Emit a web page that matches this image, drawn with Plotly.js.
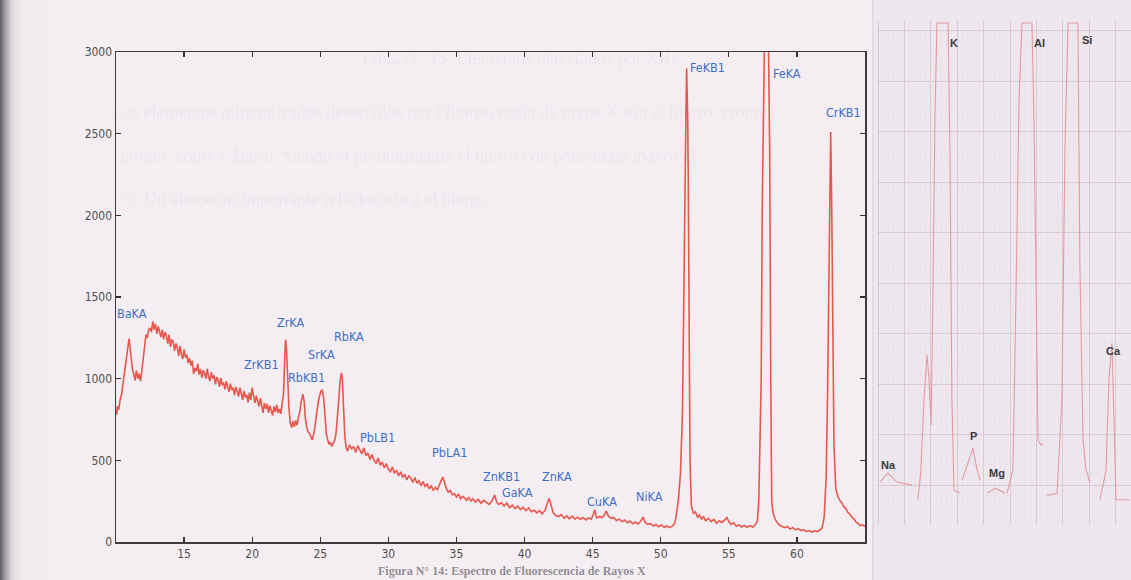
<!DOCTYPE html>
<html>
<head>
<meta charset="utf-8">
<script src="https://cdn.plot.ly/plotly-3.0.1.min.js"></script>
<style>
  html, body { margin:0; padding:0; }
  body {
    width:1131px; height:580px; overflow:hidden;
    background: linear-gradient(to right, #5f5f63 0px, #a9a6aa 6px, #dedade 12px, #f1ebf0 22px, #f4eef3 60px);
  }
  #chart { width:1131px; height:580px; }
</style>
</head>
<body>
<div id="chart"></div>
<script>
// ---- Main XRF spectrum: [2θ, counts] pairs ----
const spectrumBa = [
[10.0,808],[10.05,780],[10.1,830],[10.2,810],[10.3,870],[10.4,900],[10.5,960],[10.6,1030],[10.7,1090],[10.8,1150],
[10.9,1215],[10.96,1245],[11.02,1200],[11.1,1120],[11.2,1060],[11.3,1030],[11.4,990],[11.5,1050],[11.6,1000],[11.7,1030],
[11.8,985],[11.9,1050],[12.0,1120],[12.1,1210],[12.2,1270],[12.3,1250],[12.4,1300]
];
const spectrumBackground = [
[12.5,1310],[12.6,1285],[12.7,1350],[12.8,1300],[12.9,1335],[13.0,1275],[13.1,1320],[13.2,1290],[13.3,1255],[13.4,1300],
[13.5,1240],[13.6,1285],[13.7,1265],[13.8,1215],[13.9,1270],[14.0,1195],[14.1,1240],[14.2,1225],[14.3,1170],[14.4,1215],
[14.5,1190],[14.6,1140],[14.7,1200],[14.8,1150],[14.9,1120],[15.0,1180],[15.1,1130],[15.2,1145],[15.3,1095],[15.4,1125],
[15.5,1080],[15.6,1110],[15.7,1030],[15.8,1065],[15.9,1045],[16.0,1090],[16.1,1025],[16.2,1060],[16.3,1005],[16.4,1050],
[16.5,1035],[16.6,1000],[16.7,1060],[16.8,1010],[16.9,985],[17.0,1040],[17.1,1000],[17.2,1020],[17.3,965],[17.4,1010],
[17.5,990],[17.6,950],[17.7,1005],[17.8,960],[17.9,975],[18.0,935],[18.1,985],[18.2,950],[18.3,920],[18.4,970],
[18.5,930],[18.6,945],[18.7,900],[18.8,950],[18.9,915],[19.0,890],[19.1,945],[19.2,900],[19.3,870],[19.4,925],
[19.5,885],[19.6,900],[19.7,855],[19.8,915],[19.9,870],[20.0,945],[20.1,880],[20.2,850],[20.3,895],[20.4,860],
[20.5,830],[20.6,880],[20.7,835],[20.8,790],[20.9,850],[21.0,815],[21.1,845],[21.2,790],[21.3,835],[21.4,800],
[21.5,775],[21.6,830],[21.7,795],[21.8,840],[21.9,790],[22.0,815],[22.1,785],[22.2,850]
];
const spectrumZrRbSr = [
[22.3,900],[22.38,1100],[22.45,1240],[22.52,1180],[22.6,1000],[22.7,820],[22.8,730],[22.9,700],[23.0,740],[23.1,705],
[23.2,745],[23.3,715],[23.4,765],[23.5,800],[23.6,860],[23.72,905],[23.82,860],[23.9,760],[24.0,705],[24.1,675],
[24.2,668],[24.3,640],[24.4,625],[24.5,655],[24.6,700],[24.75,800],[24.9,880],[25.05,925],[25.15,930],[25.25,880],
[25.35,760],[25.45,660],[25.55,625],[25.65,598],[25.75,612],[25.85,585],[25.95,605],[26.05,620],[26.15,660],[26.25,750],
[26.35,860],[26.45,980],[26.55,1035],[26.62,1000],[26.7,850],[26.8,650]
];
const spectrumPb = [
[26.9,580],[27.0,555],[27.15,595],[27.3,570],[27.45,585],[27.6,550],[27.75,590],[27.9,560],[28.05,540],[28.2,575],
[28.35,530],[28.5,545],[28.65,505],[28.8,535],[28.95,500],[29.1,480],[29.25,515],[29.4,470],[29.55,490],[29.7,455],
[29.85,480],[30.0,445],[30.15,430],[30.3,460],[30.45,420],[30.6,440],[30.75,405],[30.9,430],[31.05,395],[31.2,415],
[31.35,380],[31.5,405],[31.65,390],[31.8,365],[31.95,395],[32.1,360],[32.25,375],[32.4,345],[32.55,370],[32.7,340],
[32.85,355],[33.0,325],[33.15,345],[33.3,315],[33.45,335],[33.6,320],[33.75,345],[33.9,380],[34.0,398],[34.1,370],
[34.25,330],[34.4,305],[34.55,315],[34.7,290],[34.85,295],[35.0,275],[35.15,295],[35.3,265],[35.45,280],[35.6,270],
[35.75,255],[35.9,275],[36.05,250],[36.2,265],[36.4,245],[36.6,262],[36.8,238],[37.0,255],[37.2,240],[37.4,230]
];
const spectrumZnCuNi = [
[37.6,250],[37.8,288],[37.95,245],[38.1,230],[38.3,240],[38.5,220],[38.7,238],[38.9,210],[39.1,225],[39.3,205],
[39.5,220],[39.7,198],[39.9,212],[40.1,192],[40.3,208],[40.5,185],[40.7,195],[40.9,178],[41.1,192],[41.3,172],
[41.5,195],[41.65,230],[41.8,268],[41.95,225],[42.1,180],[42.3,162],[42.5,155],[42.7,168],[42.9,145],[43.1,160],
[43.3,142],[43.5,158],[43.7,140],[43.9,152],[44.1,138],[44.3,150],[44.5,135],[44.7,148],[44.9,140],[45.05,170],
[45.15,196],[45.3,148],[45.5,155],[45.7,150],[45.9,170],[46.0,190],[46.15,160],[46.35,145],[46.55,150],[46.75,132],
[46.95,140],[47.15,125],[47.35,135],[47.55,118],[47.75,128],[47.95,112],[48.15,122],[48.35,110],[48.55,130],[48.7,153],
[48.85,120],[49.05,108],[49.25,112],[49.45,98],[49.65,108],[49.85,94],[50.05,104],[50.25,90],[50.45,98],[50.65,88],
[50.85,97],[51.0,110]
];
const spectrumFeCr = [
[51.1,140],[51.3,260],[51.45,420],[51.6,800],[51.72,1500],[51.82,2400],[51.9,2900],[51.98,2600],[52.02,2235],[52.08,1300],
[52.15,500],[52.25,220],[52.4,175],[52.55,185],[52.7,150],[52.85,165],[53.0,140],[53.15,155],[53.3,130],[53.5,145],
[53.7,125],[53.9,138],[54.1,115],[54.3,130],[54.5,120],[54.7,135],[54.85,150],[55.0,125],[55.15,108],[55.35,118],
[55.55,96],[55.75,105],[55.95,92],[56.15,102],[56.35,90],[56.55,100],[56.75,92],[56.95,105],[57.1,130],[57.2,250],
[57.3,700],[57.38,1010],[57.45,2000],[57.55,3300],[57.7,3600],[57.85,3500],[58.0,2400],[58.08,1000],[58.15,250],[58.25,178],
[58.4,140],[58.55,120],[58.7,105],[58.9,95],[59.1,88],[59.3,95],[59.5,80],[59.7,88],[59.9,74],[60.1,82],
[60.3,70],[60.5,76],[60.7,64],[60.9,70],[61.1,60],[61.3,68],[61.5,64],[61.7,75],[61.85,85],[62.0,150],
[62.15,400],[62.25,900],[62.32,1360],[62.4,2000],[62.48,2510],[62.55,2100],[62.63,1300],[62.72,600],[62.85,330],[63.0,280],
[63.15,255],[63.3,240],[63.45,215],[63.6,205],[63.75,180],[63.9,170],[64.05,150],[64.2,140],[64.35,120],[64.5,115],
[64.65,100],[64.8,105],[65.0,95]
];
const yTicks = [0, 500, 1000, 1500, 2000, 2500, 3000];
const xTicks = [15, 20, 25, 30, 35, 40, 45, 50, 55, 60];

// Peak labels (element lines) and their anchor points in data coordinates
const lineNames = ["BaKA","ZrKB1","ZrKA","RbKB1","SrKA","RbKA","PbLB1","PbLA1","ZnKB1","GaKA","ZnKA","CuKA","NiKA","FeKB1","FeKA","CrKB1"];
const lineX =     [11.2,  20.7,   22.8,  24.0,   25.1,  27.1,  29.2,   34.5,   38.3,   39.5,  42.4,  45.7,  49.2,  53.4,   59.3,  63.4];
const lineY =     [1400,  1085,   1345,  1005,   1145,  1260,  637,    545,    398,    306,   398,   251,   276,   2905,   2870,  2627];

// ---- Inset photo panel (light elements) ----
const insetX = [
 [1.2,4.3,7.9,13.8],
 [16.1,17.3,18.5,19.7,20.5,21.3,22.0,22.8,23.6,28.0,28.7,29.5,30.3,32.7],
 [33.5,36.2,37.8,39.4,40.6],
 [43.3,46.5,50.4],
 [51.2,53.5,54.7,55.9,57.1,61.0,61.8,62.6,63.4,64.6,65.4],
 [66.9,70.9,72.8,74.0,75.2,79.1,79.9,81.1,82.3,83.9],
 [87.8,90.2,91.3,92.5,93.3,94.1,99.6]
];
const insetY = [
 [8.5,10.3,8.5,7.9],
 [5.0,10.9,24.8,33.7,28.7,19.8,44.6,80.2,99.4,99.4,74.3,24.8,6.9,6.3],
 [8.9,12.9,15.2,10.9,8.9],
 [6.3,7.3,6.3],
 [6.3,10.9,44.6,84.2,99.4,99.4,80.2,44.6,16.8,15.8,16.2],
 [5.9,6.3,24.8,74.3,99.4,99.4,51.1,16.8,10.9,8.3],
 [5.0,10.9,28.7,36.0,20.8,5.0,5.0]
];
const insetNames = ["Na","K","P","Mg","Al","Si","Ca"];
const insetLabelX = [4.5, 30.5, 37.8, 47.2, 63.8, 82.7, 93.3];
const insetLabelY = [11.8, 95.5, 17.6, 10.2, 95.5, 96.0, 34.4];

// ---- Build figure ----
const W = 1131, H = 580;
const px = v => v / W, py = v => 1 - v / H;

const spectrum = [].concat(spectrumBa, spectrumBackground, spectrumZrRbSr, spectrumPb, spectrumZnCuNi, spectrumFeCr);

const traces = [{
  x: spectrum.map(p => p[0]), y: spectrum.map(p => p[1]), type: 'scatter', mode: 'lines',
  line: { color: '#e8564c', width: 1.6 },
  xaxis: 'x', yaxis: 'y', hoverinfo: 'skip'
}];
insetX.forEach((xs, i) => {
  traces.push({
    x: xs, y: insetY[i], type: 'scatter', mode: 'lines',
    line: { color: '#e49aa2', width: 1.1 },
    xaxis: 'x2', yaxis: 'y2', hoverinfo: 'skip'
  });
});

const tickFont = { family: '"Liberation Sans Narrow", "DejaVu Sans Condensed", sans-serif', size: 12, color: '#4f4f4f' };

const annotations = [];
lineNames.forEach((n, i) => annotations.push({
  x: lineX[i], y: lineY[i], xref: 'x', yref: 'y', text: n, showarrow: false,
  font: { family: '"Liberation Sans Narrow", "DejaVu Sans Condensed", sans-serif', size: 12.5, color: '#3f6fc4' }
}));
insetNames.forEach((n, i) => annotations.push({
  x: insetLabelX[i], y: insetLabelY[i], xref: 'x2', yref: 'y2', text: '<b>' + n + '</b>', showarrow: false,
  font: { family: '"Liberation Sans", Arial, sans-serif', size: 11, color: '#3a3a3a' }
}));
// faint show-through text of the scanned page
const ghost = [
  ["Tabla N° 13: Elementos detectados por XRF", 520, 58, 'center'],
  ["Los elementos mineralizados detectados por Fluorescencia de rayos X son el hierro, cromo,", 110, 112, 'left'],
  ["plomo, cobre y Bario. Siendo el predominante el hierro con porcentaje mayor al", 118, 156, 'left'],
  ["%. Un elemento importante relacionado a el hierro.", 118, 199, 'left']
];
ghost.forEach(g => annotations.push({
  x: px(g[1]), y: py(g[2]), xref: 'paper', yref: 'paper', xanchor: g[3], yanchor: 'middle',
  text: g[0], showarrow: false,
  font: { family: '"Liberation Serif", serif', size: 18, color: 'rgba(120,105,120,0.08)' }
}));
annotations.push({
  x: px(512), y: py(571), xref: 'paper', yref: 'paper', xanchor: 'center', yanchor: 'middle',
  text: '<b>Figura N° 14: Espectro de Fluorescencia de Rayos X</b>', showarrow: false,
  font: { family: '"Liberation Serif", serif', size: 12, color: 'rgba(58,53,56,0.55)' }
});

const layout = {
  width: W, height: H,
  margin: { l: 0, r: 0, t: 0, b: 0, pad: 0 },
  paper_bgcolor: 'rgba(0,0,0,0)',
  plot_bgcolor: 'rgba(0,0,0,0)',
  showlegend: false,
  xaxis: {
    domain: [px(116), px(865)], range: [10, 65], anchor: 'y',
    tickmode: 'array', tickvals: xTicks, ticktext: xTicks.map(String),
    ticks: 'inside', ticklen: 5, tickwidth: 1.3, tickcolor: '#333', mirror: 'allticks',
    showline: true, linecolor: '#3c3c3c', linewidth: 1.5,
    showgrid: false, zeroline: false, tickfont: tickFont
  },
  yaxis: {
    domain: [py(542), py(52)], range: [0, 3000], anchor: 'x',
    tickmode: 'array', tickvals: yTicks, ticktext: yTicks.map(String),
    ticks: 'inside', ticklen: 5, tickwidth: 1.3, tickcolor: '#333', mirror: 'allticks',
    showline: true, linecolor: '#3c3c3c', linewidth: 1.5,
    showgrid: false, zeroline: false, tickfont: tickFont
  },
  xaxis2: {
    domain: [px(877), 1], range: [0, 100], anchor: 'y2',
    showticklabels: false, ticks: '', zeroline: false, showline: false,
    showgrid: true, gridcolor: '#dac9d3', gridwidth: 1, tick0: 0.4, dtick: 10.4,
    minor: { showgrid: true, gridcolor: '#eae0e7', gridwidth: 0.6, tick0: 0.4, dtick: 2.08 }
  },
  yaxis2: {
    domain: [py(525), py(20)], range: [0, 100], anchor: 'x2',
    showticklabels: false, ticks: '', zeroline: false, showline: false,
    showgrid: true, gridcolor: '#dac9d3', gridwidth: 1, tick0: 7.9, dtick: 10,
    minor: { showgrid: true, gridcolor: '#eae0e7', gridwidth: 0.6, tick0: 7.9, dtick: 2 }
  },
  shapes: [
    { type: 'rect', xref: 'paper', yref: 'paper', x0: px(872), x1: 1, y0: 0, y1: 1,
      fillcolor: '#eee8ee', line: { width: 0 }, layer: 'below' },
    { type: 'line', xref: 'paper', yref: 'paper', x0: px(873), x1: px(873), y0: 0, y1: 1,
      line: { color: '#e3dce2', width: 2 }, layer: 'below' }
  ],
  annotations: annotations
};

Plotly.newPlot('chart', traces, layout, { staticPlot: true, displayModeBar: false });
</script>
</body>
</html>
